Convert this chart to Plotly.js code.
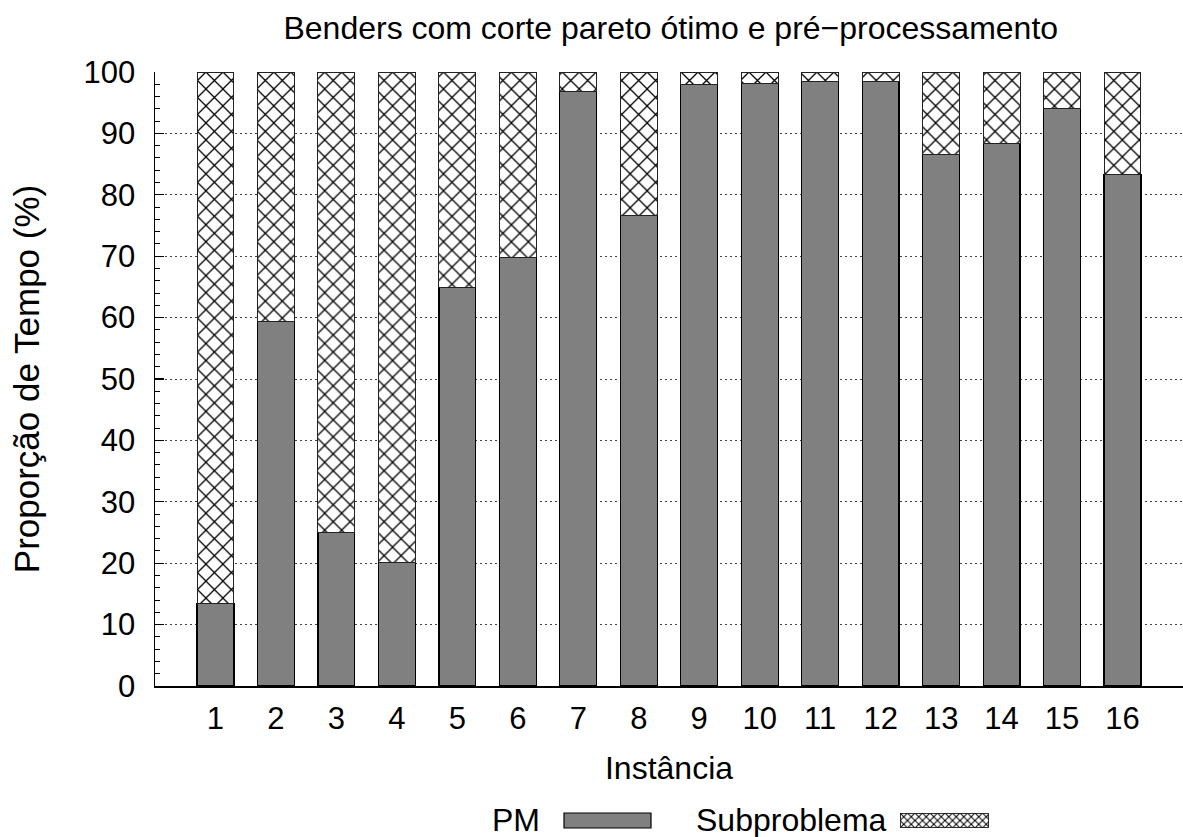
<!DOCTYPE html>
<html>
<head>
<meta charset="utf-8">
<script src="https://cdn.plot.ly/plotly-3.0.1.min.js"></script>
<style>html,body{margin:0;padding:0;background:#fff;}#chart{width:1183px;height:837px;}</style>
</head>
<body>
<div id="chart"></div>
<script>
// ---- data ----
const instancias = [1, 2, 3, 4, 5, 6, 7, 8, 9, 10, 11, 12, 13, 14, 15, 16];
const tickLabels = ["1","2","3","4","5","6","7","8","9","10","11","12","13","14","15","16"];
const pm = [13.4, 59.4, 25.0, 20.1, 64.9, 69.8, 96.9, 76.7, 98.0, 98.2, 98.5, 98.4, 86.6, 88.4, 94.0, 83.3];
const subproblema = [86.6, 40.6, 75.0, 79.9, 35.1, 30.2, 3.1, 23.3, 2.0, 1.8, 1.5, 1.6, 13.4, 11.6, 6.0, 16.7];
const seriesNames = ["PM", "Subproblema"];
const chartTitle = "Benders com corte pareto ótimo e pré−processamento";
const xTitle = "Instância";
const yTitle = "Proporção de Tempo (%)";

const FONT = "Liberation Sans, Arial, sans-serif";
const FS = 31;

const traces = [
  {
    type: "bar", name: seriesNames[0], x: instancias, y: pm, width: 0.61,
    marker: {color: "#808080", line: {color: "#000", width: 1.2}},
    showlegend: false, hoverinfo: "x+y"
  },
  {
    type: "bar", name: seriesNames[1], x: instancias, y: subproblema, width: 0.61,
    marker: {color: "#ffffff", line: {color: "#222", width: 1},
             pattern: {shape: "x", size: 12, solidity: 0.2, fgcolor: "#000", bgcolor: "#fff"}},
    showlegend: false, hoverinfo: "x+y"
  }
];

const hatchSvg = '<svg xmlns="http://www.w3.org/2000/svg" width="89" height="15" viewBox="0 0 89 15">' +
  '<defs><pattern id="p" width="7.5" height="7.5" patternUnits="userSpaceOnUse">' +
  '<path d="M0,0L7.5,7.5M7.5,0L0,7.5" stroke="#000" stroke-width="1"/></pattern></defs>' +
  '<rect x="0.5" y="0.5" width="88" height="14" fill="#fff"/>' +
  '<rect x="0.5" y="0.5" width="88" height="14" fill="url(#p)" stroke="#000" stroke-width="0.8"/></svg>';
const hatchSrc = "data:image/svg+xml;charset=utf-8," + encodeURIComponent(hatchSvg);

const layout = {
  width: 1183, height: 837,
  margin: {l: 155, r: 0, t: 72, b: 151},
  paper_bgcolor: "#fff", plot_bgcolor: "#fff",
  font: {family: FONT, size: FS, color: "#000"},
  barmode: "stack",
  showlegend: false,
  title: {text: chartTitle, font: {family: FONT, size: 32, color: "#000"},
          x: 0.567, xref: "container", xanchor: "center", y: 1 - 28/837, yref: "container", yanchor: "middle"},
  xaxis: {
    range: [0, 17], tickmode: "array", tickvals: instancias, ticktext: tickLabels,
    ticks: "", showgrid: false, zeroline: false,
    showline: true, linecolor: "#000", linewidth: 1.5, mirror: false,
    ticklabelstandoff: 4,
    tickfont: {family: FONT, size: FS, color: "#000"},
    title: {text: xTitle, font: {family: FONT, size: 32, color: "#000"}, standoff: 22},
    fixedrange: true
  },
  yaxis: {
    range: [0, 100], dtick: 10, tick0: 0,
    ticks: "inside", ticklen: 9, tickwidth: 1.2, tickcolor: "#000",
    minor: {ticks: "inside", ticklen: 5, dtick: 2, tickwidth: 1, tickcolor: "#000", showgrid: false},
    showgrid: true, gridcolor: "#444", gridwidth: 1, griddash: "2px,3px",
    zeroline: false, showline: true, linecolor: "#000", linewidth: 1.5, mirror: false,
    ticklabelstandoff: 12,
    tickfont: {family: FONT, size: FS, color: "#000"},
    title: {text: yTitle, font: {family: FONT, size: 35, color: "#000"}, standoff: 33},
    fixedrange: true
  },
  annotations: [
    {text: seriesNames[0], xref: "paper", yref: "paper", x: (542-155)/1028, y: (686-820)/614,
     xanchor: "right", yanchor: "middle", showarrow: false, font: {family: FONT, size: 32, color: "#000"}},
    {text: seriesNames[1], xref: "paper", yref: "paper", x: (889-155)/1028, y: (686-820)/614,
     xanchor: "right", yanchor: "middle", showarrow: false, font: {family: FONT, size: 32, color: "#000"}}
  ],
  shapes: [
    {type: "rect", xref: "paper", yref: "paper", x0: (564-155)/1028, x1: (651-155)/1028,
     y0: (686-813)/614, y1: (686-828)/614, fillcolor: "#808080", line: {color: "#000", width: 1.2}}
  ],
  images: [
    {source: hatchSrc, xref: "paper", yref: "paper", x: (900-155)/1028, y: (686-813)/614,
     sizex: 89/1028, sizey: 15/614, xanchor: "left", yanchor: "top", sizing: "stretch", layer: "above"}
  ]
};

Plotly.newPlot("chart", traces, layout, {displayModeBar: false, staticPlot: true});
</script>
</body>
</html>
